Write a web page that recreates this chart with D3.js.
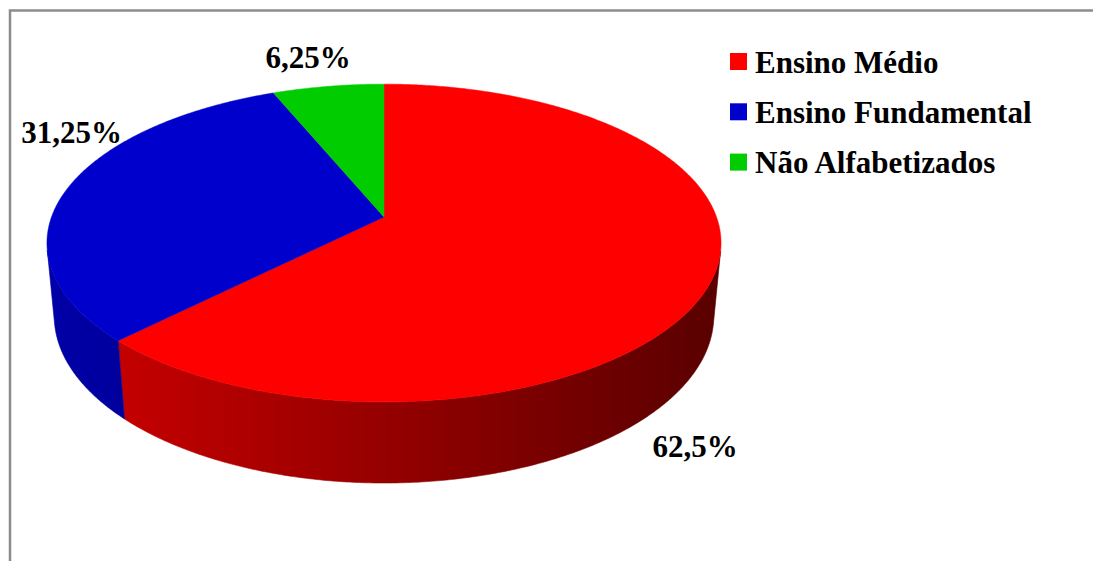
<!DOCTYPE html>
<html>
<head>
<meta charset="utf-8">
<script src="https://cdn.jsdelivr.net/npm/d3@7"></script>
<style>
  html, body { margin: 0; padding: 0; background: #fff; }
  svg { display: block; }
  text { font-family: "Liberation Serif", "Times New Roman", serif; font-weight: bold; fill: #000; }
</style>
</head>
<body>
<svg id="chart" width="1093" height="561"></svg>
<script>
// ---- data ----
const categories = ["Ensino Médio", "Ensino Fundamental", "Não Alfabetizados"];
const values = [62.5, 31.25, 6.25];
const valueLabels = ["62,5%", "31,25%", "6,25%"];
const colors = ["#ff0000", "#0000cc", "#00cc00"];

// ---- layout ----
const W = 1093, H = 561;
const cx = 384, cy = 217;          // projected pie centre (top face)
const S = 332.5;                   // projection scale
const sinE = 0.465, cosE = Math.sqrt(1 - 0.465 * 0.465);
const D = 5.41;                    // camera distance (radius units)
const depth = 0.25;                // pie thickness (radius units)
const fontSize = 31;
// label anchors (text centre x, baseline y) per slice
const labelPos = [[695, 457], [71.5, 143], [308, 68]];

const svg = d3.select("#chart");
const defs = svg.append("defs");

// chart area border (top & left visible)
svg.append("rect")
  .attr("x", 10).attr("y", 10.5)
  .attr("width", 1200).attr("height", 700)
  .attr("fill", "none").attr("stroke", "#8c8c8c").attr("stroke-width", 2.5);

function proj(X, Y, Z) {
  const v = Y * sinE + Z * cosE;
  const w = Y * cosE - Z * sinE;
  const den = 1 + w / D;
  return [cx + S * X / den, cy - S * v / den];
}
function rim(a, Z) { return proj(Math.sin(a), Math.cos(a), Z); }

const pie = d3.pie().sort(null).value(d => d)(values);
const shadeX = [47, 722];
const shade = d3.scaleLinear().domain(shadeX).range([0.82, 0.35]).clamp(true);

const sideG = svg.append("g");
const topG = svg.append("g");
const line = d3.line();

function facing(a0, a1) {
  const q = [rim(a0, 0), rim(a1, 0), rim(a1, -depth), rim(a0, -depth)];
  let area = 0;
  for (let j = 0; j < 4; j++) {
    const [x1, y1] = q[j], [x2, y2] = q[(j + 1) % 4];
    area += x1 * y2 - x2 * y1;
  }
  return area < 0;
}

pie.forEach((p, i) => {
  const span = p.endAngle - p.startAngle;
  const n = Math.max(2, Math.ceil(span / (Math.PI / 360)));
  const angles = d3.range(n + 1).map(k => p.startAngle + span * k / n);

  // gradient for this slice's side wall
  const gid = "side" + i;
  const grad = defs.append("linearGradient").attr("id", gid)
    .attr("gradientUnits", "userSpaceOnUse")
    .attr("x1", shadeX[0]).attr("y1", 0).attr("x2", shadeX[1]).attr("y2", 0);
  d3.range(0, 1.0001, 0.1).forEach(t => {
    const x = shadeX[0] + t * (shadeX[1] - shadeX[0]);
    grad.append("stop").attr("offset", t)
      .attr("stop-color", d3.interpolateRgb("#000000", colors[i])(shade(x)));
  });

  // collect runs of viewer-facing wall segments
  const runs = [];
  let cur = null;
  for (let k = 0; k < n; k++) {
    if (facing(angles[k], angles[k + 1])) {
      if (!cur) { cur = [angles[k]]; runs.push(cur); }
      cur.push(angles[k + 1]);
    } else cur = null;
  }
  runs.forEach(run => {
    const poly = run.map(a => rim(a, 0)).concat(run.slice().reverse().map(a => rim(a, -depth)));
    sideG.append("path")
      .attr("d", line(poly) + "Z")
      .attr("fill", `url(#${gid})`).attr("stroke", `url(#${gid})`).attr("stroke-width", 0.6);
  });

  // top face
  const pts = [proj(0, 0, 0)].concat(angles.map(a => rim(a, 0)));
  topG.append("path")
    .attr("d", line(pts) + "Z")
    .attr("fill", colors[i]).attr("stroke", colors[i]).attr("stroke-width", 0.5);
});

// value labels
svg.append("g").selectAll("text")
  .data(pie)
  .join("text")
  .attr("x", (d, i) => labelPos[i][0])
  .attr("y", (d, i) => labelPos[i][1])
  .attr("text-anchor", "middle")
  .attr("font-size", fontSize)
  .text((d, i) => valueLabels[i]);

// legend
const legend = svg.append("g").attr("transform", "translate(730,53)");
const rows = legend.selectAll("g").data(categories).join("g")
  .attr("transform", (d, i) => `translate(0,${i * 50.3})`);
rows.append("rect").attr("width", 17).attr("height", 17)
  .attr("fill", (d, i) => colors[i]);
rows.append("text").attr("x", 25).attr("y", 19.5)
  .attr("font-size", fontSize).text(d => d);
</script>
</body>
</html>
